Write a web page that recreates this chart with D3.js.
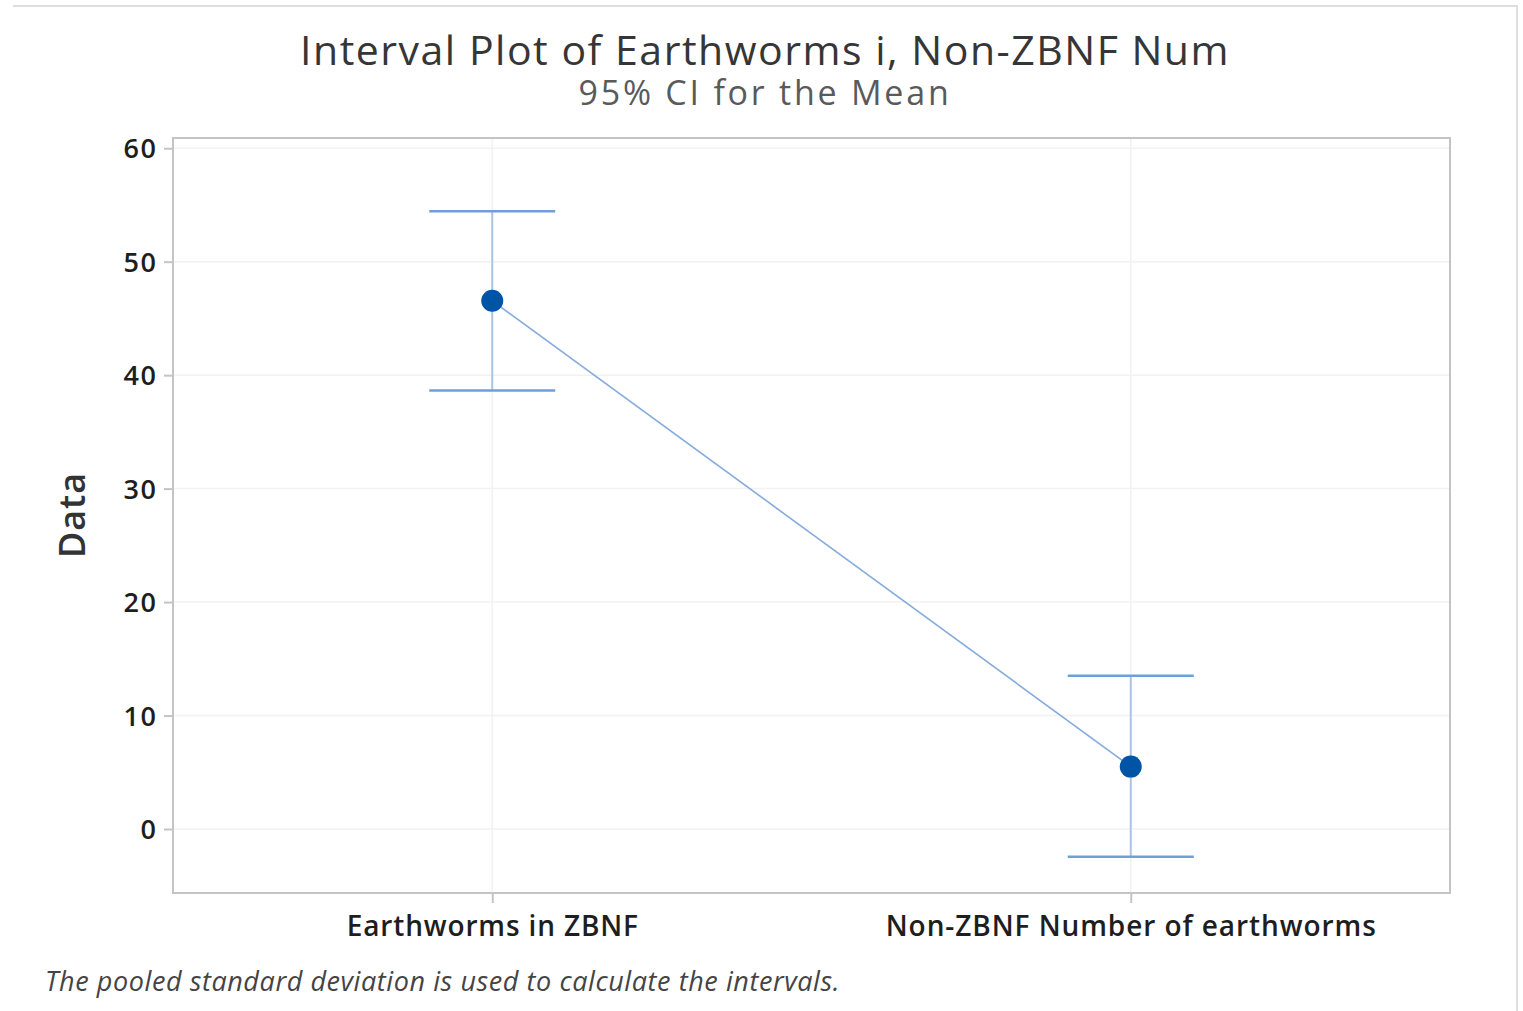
<!DOCTYPE html>
<html>
<head>
<meta charset="utf-8">
<script src="https://cdn.jsdelivr.net/npm/d3@7"></script>
<style>
  body { margin: 0; background: #fff; }
  svg { display: block; font-family: "Open Sans", sans-serif; }
</style>
</head>
<body>
<svg id="chart" width="1523" height="1011"></svg>
<script>
// data
const categories = ["Earthworms in ZBNF", "Non-ZBNF Number of earthworms"];
const means = [46.55, 5.5];
const lower = [38.65, -2.45];
const upper = [54.45, 13.5];
const yTicks = [0, 10, 20, 30, 40, 50, 60];

const svg = d3.select("#chart");
const plot = { left: 173, right: 1450, top: 138, bottom: 893 };

const x = d3.scalePoint().domain(categories).range([plot.left, plot.right]).padding(0.5);
const y = d3.scaleLinear().domain([-5.64, 60.9]).range([plot.bottom, plot.top]);

// stretch a text's letter spacing so it spans the given width
function fit(sel, width) {
  const len = sel.node().getComputedTextLength();
  const n = sel.text().length;
  sel.attr("letter-spacing", (width - len) / n);
}

// outer frame (top and right edges visible)
svg.append("line").attr("x1", 13).attr("x2", 1518).attr("y1", 6).attr("y2", 6)
  .attr("stroke", "#dedede").attr("stroke-width", 2);
svg.append("line").attr("x1", 1517).attr("x2", 1517).attr("y1", 6).attr("y2", 1011)
  .attr("stroke", "#dedede").attr("stroke-width", 2);

// titles
svg.append("text").attr("x", 765).attr("y", 65).attr("text-anchor", "middle")
  .attr("font-size", 41).attr("font-weight", 500).attr("fill", "#363636")
  .text("Interval Plot of Earthworms i, Non-ZBNF Num").call(fit, 930);
svg.append("text").attr("x", 765).attr("y", 105).attr("text-anchor", "middle")
  .attr("font-size", 34).attr("font-weight", 500).attr("fill", "#5a5a5a")
  .text("95% CI for the Mean").call(fit, 373);

// gridlines
svg.append("g").selectAll("line").data(yTicks).join("line")
  .attr("x1", plot.left).attr("x2", plot.right)
  .attr("y1", d => y(d)).attr("y2", d => y(d))
  .attr("stroke", "#f2f2f2").attr("stroke-width", 1.5);
svg.append("g").selectAll("line").data(categories).join("line")
  .attr("x1", d => x(d)).attr("x2", d => x(d))
  .attr("y1", plot.top).attr("y2", plot.bottom)
  .attr("stroke", "#f2f2f2").attr("stroke-width", 1.5);

// plot frame
svg.append("rect").attr("x", plot.left).attr("y", plot.top)
  .attr("width", plot.right - plot.left).attr("height", plot.bottom - plot.top)
  .attr("fill", "none").attr("stroke", "#c4c4c4").attr("stroke-width", 2);

// axes
const yAxis = svg.append("g").attr("transform", `translate(${plot.left},0)`)
  .call(d3.axisLeft(y).tickValues(yTicks).tickSize(9).tickPadding(8));
const xAxis = svg.append("g").attr("transform", `translate(0,${plot.bottom})`)
  .call(d3.axisBottom(x).tickSize(10).tickPadding(12));
[yAxis, xAxis].forEach(g => {
  g.select(".domain").remove();
  g.selectAll(".tick line").attr("stroke", "#c4c4c4").attr("stroke-width", 2);
  g.selectAll(".tick text").attr("fill", "#1e1e1e")
    .attr("font-family", "Open Sans, sans-serif").attr("font-weight", 600);
});
yAxis.selectAll(".tick text").attr("font-size", 27).attr("dy", "0.36em")
  .attr("letter-spacing", 1.5).attr("dx", 1.5);
xAxis.selectAll(".tick text").attr("font-size", 28).attr("dy", "0.75em")
  .each(function (d) { d3.select(this).call(fit, d === categories[0] ? 292 : 491); });

svg.append("text").attr("transform", "translate(85,515) rotate(-90)")
  .attr("text-anchor", "middle").attr("font-size", 36).attr("font-weight", 600)
  .attr("fill", "#333").text("Data").call(fit, 86);

// intervals
const capHalf = 63;
const iv = svg.append("g");
categories.forEach((c, i) => {
  iv.append("line").attr("x1", x(c)).attr("x2", x(c))
    .attr("y1", y(upper[i])).attr("y2", y(lower[i]))
    .attr("stroke", "#a9c4e6").attr("stroke-width", 2);
  [upper[i], lower[i]].forEach(v => {
    iv.append("line").attr("x1", x(c) - capHalf).attr("x2", x(c) + capHalf)
      .attr("y1", y(v)).attr("y2", y(v))
      .attr("stroke", "#6f9fd8").attr("stroke-width", 2.5);
  });
});

// mean connect line
svg.append("path").datum(categories)
  .attr("d", d3.line().x(d => x(d)).y((d, i) => y(means[i])))
  .attr("fill", "none").attr("stroke", "#86abdc").attr("stroke-width", 1.6);

svg.append("g").selectAll("circle").data(categories).join("circle")
  .attr("cx", d => x(d)).attr("cy", (d, i) => y(means[i])).attr("r", 11)
  .attr("fill", "#0054a6");

// footnote
svg.append("text").attr("x", 45).attr("y", 991).attr("font-size", 27)
  .attr("font-style", "italic").attr("fill", "#444")
  .text("The pooled standard deviation is used to calculate the intervals.").call(fit, 795);
</script>
</body>
</html>
